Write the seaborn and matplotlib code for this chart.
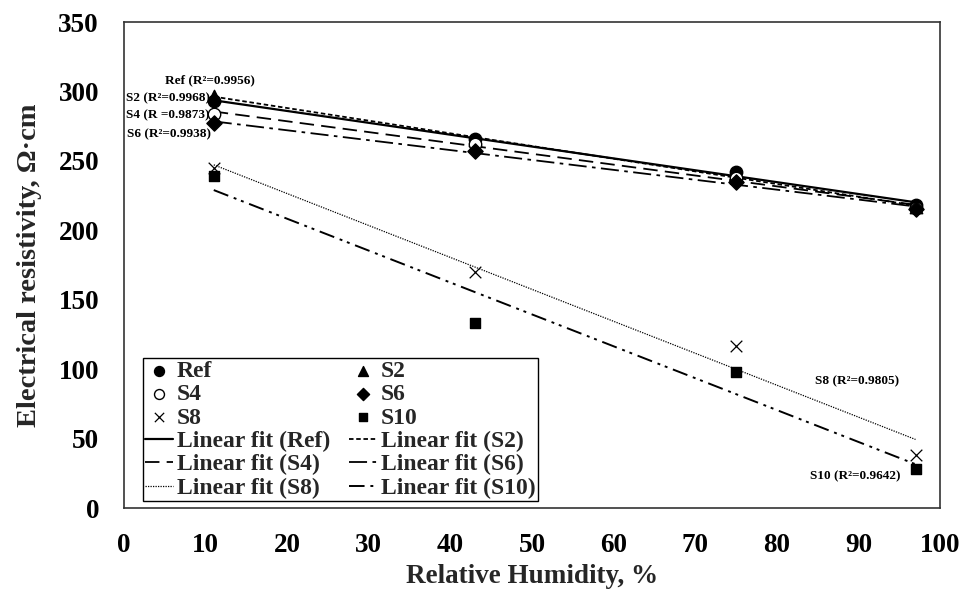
import numpy as np
import pandas as pd
import matplotlib
matplotlib.use("Agg")
import matplotlib.pyplot as plt
import seaborn as sns

# ---- data ----
humidity = [11, 43, 75, 97]
ref_vals = [293, 266, 242, 218]
s2_vals = [297, 265, 240, 217]
s4_vals = [284, 262, 238, 216]
s6_vals = [277, 257, 235, 215]
s8_vals = [245, 170, 117, 38]
s10_vals = [239, 133, 98, 28]
series_names = ["Ref", "S2", "S4", "S6", "S8", "S10"]
r2_labels = ["Ref (R²=0.9956)", "S2 (R²=0.9968)", "S4 (R =0.9873)",
             "S6 (R²=0.9938)", "S8 (R²=0.9805)", "S10 (R²=0.9642)"]
x_ticks = [0, 10, 20, 30, 40, 50, 60, 70, 80, 90, 100]
y_ticks = [0, 50, 100, 150, 200, 250, 300, 350]

values = [ref_vals, s2_vals, s4_vals, s6_vals, s8_vals, s10_vals]

sns.set_theme(style="white")
plt.rcParams['font.family'] = ['Liberation Serif', 'DejaVu Serif']
plt.rcParams['font.weight'] = 'bold'

fig = plt.figure(figsize=(9.63, 5.91), dpi=100)
ax = fig.add_axes([124/963, 1-508/591, (940-124)/963, (508-22)/591])

markers = ["o", "^", "o", "D", "x", "s"]
facecolors = ["black", "black", "white", "black", "black", "black"]
msizes = [80, 80, 80, 60, 70, 60]
linestyles = ["-", (0, (2.5, 1.5)), (0, (8, 4)), (0, (10, 3, 2, 3)),
              (0, (1, 1)), (0, (8, 3, 1.5, 2.5, 1.5, 3))]
lws = [1.6, 1.3, 1.3, 1.3, 0.9, 1.4]

scatter_handles = {}
line_handles = {}
for name, vals, m, fc, ms, ls, lw in zip(series_names, values, markers,
                                         facecolors, msizes, linestyles, lws):
    df = pd.DataFrame({"x": humidity, "y": vals})
    sns.regplot(data=df, x="x", y="y", ax=ax, ci=None, scatter=False,
                truncate=True, color="black",
                line_kws=dict(linestyle=ls, linewidth=lw))
    line_handles[name] = ax.lines[-1]
    if m == "x":
        sns.scatterplot(data=df, x="x", y="y", ax=ax, marker="x", s=ms,
                        color="black", linewidth=0.9, zorder=5)
    else:
        sns.scatterplot(data=df, x="x", y="y", ax=ax, marker=m, s=ms,
                        facecolor=fc, edgecolor="black", linewidth=1.0,
                        zorder=5)
    scatter_handles[name] = ax.collections[-1]

ax.set_xlim(0, 100)
ax.set_ylim(0, 350)
ax.set_xticks(x_ticks)
ax.set_yticks(y_ticks)
ax.tick_params(direction="in", length=7, width=1, pad=18, labelsize=19.5,
               colors="black")
for lab in ax.get_xticklabels() + ax.get_yticklabels():
    lab.set_fontweight("bold")
for sp in ax.spines.values():
    sp.set_color("#333333")
    sp.set_linewidth(1.2)

ax.set_xlabel("Relative Humidity, %", fontsize=19.5, fontweight="bold",
              labelpad=4)
ax.set_ylabel("Electrical resistivity, Ω·cm", fontsize=20.5,
              fontweight="bold", labelpad=12)

# annotations
ann_kw = dict(fontsize=9.5, fontweight="bold", color="black")
ax.text(10.5, 308, r2_labels[0], ha="center", va="center", **ann_kw)
ax.text(0.2, 295, r2_labels[1], ha="left", va="center", **ann_kw)
ax.text(0.2, 283, r2_labels[2], ha="left", va="center", **ann_kw)
ax.text(0.4, 269, r2_labels[3], ha="left", va="center", **ann_kw)
ax.text(89.8, 91, r2_labels[4], ha="center", va="center", **ann_kw)
ax.text(89.6, 23, r2_labels[5], ha="center", va="center", **ann_kw)

# legend (row-wise ordering in two columns)
col1 = [scatter_handles["Ref"], scatter_handles["S4"], scatter_handles["S8"],
        line_handles["Ref"], line_handles["S4"], line_handles["S8"]]
col1_l = ["Ref", "S4", "S8", "Linear fit (Ref)", "Linear fit (S4)",
          "Linear fit (S8)"]
col2 = [scatter_handles["S2"], scatter_handles["S6"], scatter_handles["S10"],
        line_handles["S2"], line_handles["S6"], line_handles["S10"]]
col2_l = ["S2", "S6", "S10", "Linear fit (S2)", "Linear fit (S6)",
          "Linear fit (S10)"]
leg = ax.legend(col1 + col2, col1_l + col2_l, ncol=2, loc="lower left",
                bbox_to_anchor=(0.023, 0.014),
                prop=dict(weight="bold", size=17),
                frameon=True, fancybox=False, edgecolor="black",
                framealpha=1, labelspacing=0.08, handlelength=1.2,
                handletextpad=0.15, columnspacing=0.8, borderpad=0.1,
                borderaxespad=0, markerscale=0.8)
leg.get_frame().set_linewidth(1.0)

fig.savefig("out.png", dpi=100, facecolor="white")
